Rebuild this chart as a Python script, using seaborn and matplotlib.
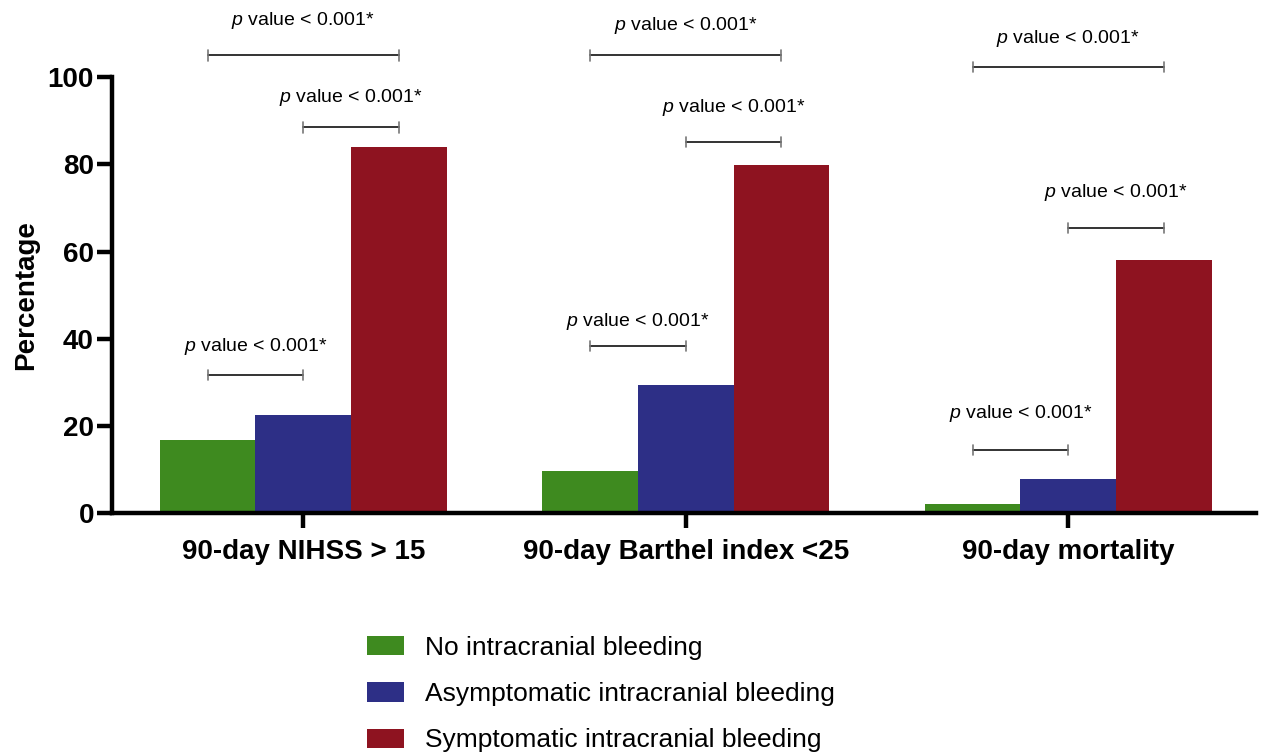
import numpy as np
import pandas as pd
import matplotlib
matplotlib.use('Agg')
import matplotlib.pyplot as plt
import seaborn as sns

# data
outcomes = ['90-day NIHSS > 15', '90-day Barthel index <25', '90-day mortality']
groups = ['No intracranial bleeding', 'Asymptomatic intracranial bleeding',
          'Symptomatic intracranial bleeding']
no_bleed = [16.7, 9.6, 2.0]
asympt_bleed = [22.5, 29.4, 7.8]
sympt_bleed = [84.0, 79.8, 58.0]
colors = ['#3e8a1f', '#2d2f86', '#8e1320']

# significance brackets: (outcome index, from group, to group, bracket height, label height)
brackets = [
    (0, 0, 2, 105.0, 113.0), (0, 1, 2, 88.5, 95.4), (0, 0, 1, 31.7, 38.1),
    (1, 0, 2, 105.0, 111.9), (1, 1, 2, 85.1, 93.1), (1, 0, 1, 38.3, 44.0),
    (2, 0, 2, 102.3, 108.9), (2, 1, 2, 65.4, 73.6), (2, 0, 1, 14.4, 22.9),
]
p_label = r'$\mathit{p}$ value < 0.001*'


def main():
    df = pd.DataFrame({
        'Outcome': np.repeat(outcomes, 3),
        'Group': groups * 3,
        'Percentage': [v for trio in zip(no_bleed, asympt_bleed, sympt_bleed) for v in trio],
    })

    sns.set_style('ticks')
    plt.rcParams['font.family'] = ['Liberation Sans', 'DejaVu Sans']
    plt.rcParams['mathtext.fontset'] = 'custom'
    plt.rcParams['mathtext.it'] = 'Liberation Sans:italic'
    plt.rcParams['text.color'] = 'black'
    plt.rcParams['xtick.color'] = 'black'
    plt.rcParams['ytick.color'] = 'black'
    plt.rcParams['axes.labelcolor'] = 'black'

    fig = plt.figure(figsize=(12.61, 7.54), dpi=100)
    ax = fig.add_axes([0.0888, 0.3196, 0.907, 0.659])
    width = 0.75
    sns.barplot(data=df, x='Outcome', y='Percentage', hue='Group', order=outcomes,
                hue_order=groups, palette=colors, width=width, saturation=1,
                linewidth=0, ax=ax)

    ax.set_xlim(-0.5, 2.49)
    ax.set_ylim(0, 114)
    ax.set_yticks([0, 20, 40, 60, 80, 100])
    ax.spines['left'].set_bounds(0, 100)
    sns.despine(ax=ax)
    for side in ['left', 'bottom']:
        ax.spines[side].set_linewidth(3.2)
        ax.spines[side].set_color('black')
    ax.tick_params(axis='both', width=3.2, length=11, labelsize=20, color='black')
    ax.tick_params(axis='y', pad=2)
    ax.tick_params(axis='x', pad=8)
    for lab in ax.get_xticklabels() + ax.get_yticklabels():
        lab.set_fontweight('bold')
    ax.set_xlabel('')
    ax.set_ylabel('Percentage', fontsize=20, fontweight='bold')
    ax.yaxis.set_label_coords(-0.064, 50 / 114)

    # brackets with p value labels
    step = width / 3
    for oi, g1, g2, yb, yt in brackets:
        x1 = oi - width / 2 + step * (g1 + 0.5)
        x2 = oi - width / 2 + step * (g2 + 0.5)
        ax.plot([x1, x2], [yb, yb], color='#333333', lw=1.4, clip_on=False)
        for xx in (x1, x2):
            ax.plot([xx, xx], [yb - 1.2, yb + 1.2], color='#777777', lw=1.2, clip_on=False)
        ax.text((x1 + x2) / 2, yt, p_label, ha='center', va='center',
                fontsize=14, color='black')

    handles, labels = ax.get_legend_handles_labels()
    ax.legend(handles, labels, loc='upper left', bbox_to_anchor=(0.283, 0.171),
              bbox_transform=fig.transFigure, frameon=False, fontsize=19,
              handlelength=1.4, handleheight=0.76, handletextpad=0.8,
              labelspacing=0.85, borderaxespad=0)

    plt.savefig('out.png', dpi=100)


if __name__ == '__main__':
    main()
